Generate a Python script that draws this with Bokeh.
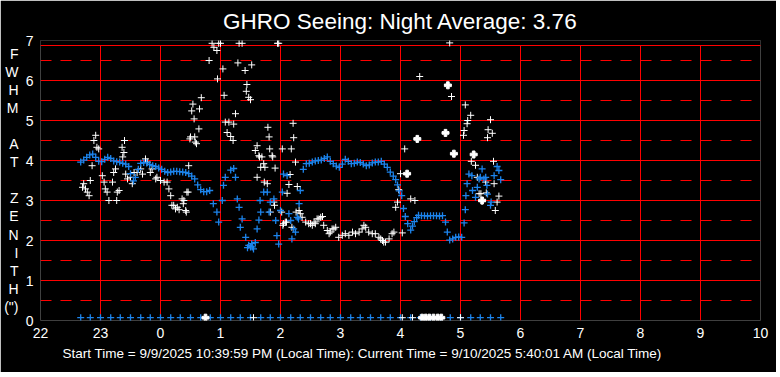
from bokeh.plotting import figure
from bokeh.models import FixedTicker, LinearAxis, Title, BoxAnnotation, Span
from bokeh.embed import file_html
from bokeh.resources import INLINE

# ---------------- data ----------------
title_text = "GHRO Seeing: Night Average: 3.76"
footer_text = "Start Time = 9/9/2025 10:39:59 PM (Local Time): Current Time = 9/10/2025 5:40:01 AM (Local Time)"
ylabel_letters = ["F", "W", "H", "M", "", "A", "T", "", "Z", "E", "N", "I", "T", "H", "(\")"]

hour_ticks = [22, 23, 24, 25, 26, 27, 28, 29, 30, 31, 32, 33, 34]
hour_labels = ["22", "23", "0", "1", "2", "3", "4", "5", "6", "7", "8", "9", "10"]
fwhm_ticks = [0, 1, 2, 3, 4, 5, 6, 7]
fwhm_grid = [0, 1, 2, 3, 4, 5, 6]
fwhm_half_ticks = [0.5, 1.5, 2.5, 3.5, 4.5, 5.5, 6.5]
frame_top = 6.875

# blue series (hours, arcsec)
blue_t = [22.67, 22.72, 22.77, 22.82, 22.87, 22.92, 22.97, 23.02, 23.07, 23.12, 23.17, 23.22, 23.27, 23.32,
          23.37, 23.42, 23.47, 23.50, 23.55, 23.58, 23.63, 23.67, 23.72, 23.77, 23.82, 23.87, 23.92, 23.97,
          24.02, 24.07, 24.12, 24.17, 24.22, 24.27, 24.32, 24.37, 24.42, 24.47, 24.52, 24.57, 24.62, 24.67,
          24.72, 24.77, 24.82,
          24.88, 24.94, 24.97, 25.03, 25.05, 25.08, 25.17, 25.22, 25.25, 25.28, 25.31, 25.33, 25.36, 25.42,
          25.47, 25.50, 25.53, 25.58, 25.61, 25.64, 25.67, 25.66, 25.72, 25.78, 25.81, 25.83, 25.89, 25.92,
          25.94, 25.97, 26.00, 26.03, 26.05, 26.11, 26.14, 26.17, 26.19, 26.22, 26.25, 26.28, 26.31, 26.30,
          26.33, 25.45, 25.52, 25.55,
          26.38, 26.43, 26.48, 26.53, 26.58, 26.63, 26.68, 26.73, 26.78, 26.83, 26.88, 26.93, 26.98, 27.03,
          27.08, 27.13, 27.18, 27.23, 27.28, 27.33, 27.38, 27.43, 27.48, 27.53, 27.58, 27.63, 27.68, 27.73,
          27.78, 27.83, 27.88, 27.92, 27.95, 27.98, 28.02, 28.05, 28.08, 28.12, 28.17, 28.20, 28.23, 28.27,
          28.30, 28.35, 28.40, 28.45, 28.50, 28.55, 28.60, 28.65, 28.70, 28.75, 28.78, 28.82, 28.87, 28.92,
          28.97, 29.02,
          29.06, 29.08, 29.09, 29.11, 29.14, 29.19, 29.20, 29.25, 29.28, 29.31, 29.33, 29.36, 29.39, 29.42,
          29.45, 29.44, 29.50, 29.51, 29.56, 29.61, 29.64, 29.67]
blue_v = [3.96, 4.01, 4.08, 4.14, 4.16, 4.08, 3.98, 3.97, 4.03, 4.08, 4.05, 3.99, 3.97, 3.96,
          3.93, 3.91, 3.85, 3.67, 3.49, 3.58, 3.78, 3.93, 3.95, 3.94, 3.90, 3.87, 3.85, 3.81,
          3.78, 3.73, 3.70, 3.71, 3.73, 3.73, 3.72, 3.71, 3.70, 3.67, 3.61, 3.54, 3.39, 3.27,
          3.22, 3.22, 3.25,
          2.92, 2.71, 2.46, 3.00, 3.38, 3.58, 3.76, 3.80, 3.58, 3.04, 2.83, 2.33, 2.54, 2.08,
          1.88, 1.84, 1.84, 1.95, 2.29, 2.51, 2.71, 3.00, 3.21, 3.21, 2.71, 2.96, 3.04, 2.50,
          2.12, 1.91, 2.75, 3.21, 3.66, 3.62, 2.67, 2.50, 2.04, 2.29, 2.21, 2.58, 2.92, 2.54,
          3.25, 1.82, 1.92, 1.79,
          3.78, 3.92, 3.93, 3.96, 3.99, 4.00, 4.01, 4.05, 4.09, 3.98, 3.92, 3.86, 3.83, 3.91,
          4.03, 3.98, 3.92, 3.93, 3.96, 3.95, 3.91, 3.87, 3.89, 3.94, 3.96, 3.96, 3.98, 3.91,
          3.83, 3.71, 3.61, 3.52, 3.39, 3.24, 3.12, 2.80, 2.60, 2.42, 2.26, 2.36, 2.47, 2.57,
          2.63, 2.62, 2.62, 2.61, 2.62, 2.62, 2.62, 2.61, 2.62, 2.46, 2.21, 2.01, 2.04, 2.08,
          2.09, 2.08,
          2.44, 2.77, 3.12, 3.42, 3.66, 3.62, 3.25, 3.08, 3.33, 3.54, 3.58, 3.79, 3.54, 3.58,
          3.16, 3.38, 2.88, 2.96, 3.62, 3.85, 3.75, 3.52]

# white series (hours, arcsec)
white_t = [22.70, 22.72, 22.75, 22.78, 22.81, 22.83, 22.86, 22.89, 22.92, 22.94, 22.97, 23.03, 23.06, 23.08,
           23.11, 23.14, 23.20, 23.22, 23.25, 23.28, 23.31, 23.27, 23.36, 23.39, 23.37, 23.40, 23.42, 23.45,
           23.50, 23.53, 23.56, 23.61, 23.67, 23.70, 23.75, 23.78, 23.83, 23.86, 23.92, 23.94, 24.00, 24.06,
           24.11, 24.14, 24.17, 24.19, 24.22, 24.25, 24.28, 24.31, 24.36, 24.39, 24.42, 24.44, 24.47, 24.38,
           24.43, 24.46, 24.49, 24.50, 24.52, 24.54, 24.56, 24.57, 24.58, 24.60, 24.64, 24.65, 24.68, 24.81,
           24.86, 24.89, 24.94, 24.97, 25.00, 25.04, 24.95, 25.06, 25.08, 25.11, 25.14, 25.17, 25.21, 25.22,
           25.25, 25.29, 25.31, 25.36, 25.41, 25.43, 25.44, 25.47, 25.50, 25.52, 25.58, 25.61, 25.64, 25.65,
           25.61, 25.67, 25.69, 25.72, 25.73, 25.74, 25.78, 25.79, 25.81, 25.82, 25.83, 25.86, 25.87, 25.89,
           25.90, 25.91, 25.95, 25.97, 26.03, 26.02, 26.04, 26.05, 26.08, 26.10, 26.11, 26.14, 26.16, 26.18,
           26.21, 26.22, 26.25, 26.26, 26.28, 26.31, 26.33, 26.36, 26.19,
           26.42, 26.47, 26.50, 26.53, 26.56, 26.58, 26.61, 26.64, 26.67, 26.70, 26.72, 26.78, 26.81, 26.83,
           26.86, 26.89, 26.92, 26.97, 27.03, 27.08, 27.14, 27.20, 27.25, 27.31, 27.36, 27.39, 27.42, 27.47,
           27.53, 27.58, 27.64, 27.67, 27.70, 27.72, 27.75, 27.81, 27.86, 27.89, 27.92, 27.95, 27.97, 28.00,
           28.03, 28.07, 28.17, 28.24, 28.32, 28.82, 28.85, 29.06, 29.05, 29.08, 29.11, 29.12, 29.17, 29.18,
           29.25, 29.28, 29.31, 29.34, 29.36, 29.42, 29.43, 29.45, 29.46, 29.50, 29.53, 29.55, 29.56, 29.58,
           29.61, 29.64]
white_v = [3.33, 3.42, 3.29, 3.21, 3.12, 3.50, 3.87, 4.50, 4.63, 4.33, 4.29, 3.62, 3.46, 3.29,
           3.21, 3.00, 3.46, 3.70, 3.79, 3.21, 3.25, 3.00, 4.33, 4.20, 4.09, 4.50, 3.66, 3.54,
           3.58, 3.42, 3.70, 3.70, 3.79, 3.66, 4.04, 3.96, 3.70, 3.79, 3.54, 3.58, 3.50, 3.46,
           3.46, 3.29, 3.12, 2.88, 2.88, 2.79, 2.83, 2.77, 3.04, 3.00, 2.75, 3.21, 3.87, 2.92,
           2.71, 3.21, 4.54, 4.59, 5.24, 5.41, 5.04, 4.59, 4.46, 4.42, 4.79, 5.29, 5.57, 6.50,
           6.93, 6.83, 6.75, 6.93, 6.93, 6.29, 6.04, 5.63, 4.96, 4.70, 4.96, 4.60, 4.50, 4.91,
           5.17, 6.44, 6.93, 6.93, 6.25, 5.73, 5.90, 5.58, 5.52, 6.39, 4.25, 4.37, 4.12, 4.09,
           3.58, 3.83, 4.09, 3.92, 3.46, 3.83, 3.42, 4.83, 4.59, 4.29, 2.71, 4.12, 4.09, 2.96,
           2.88, 3.81, 6.93, 6.93, 4.29, 2.71, 2.38, 2.42, 2.46, 2.46, 3.18, 3.40, 3.65, 4.29,
           4.93, 4.57, 3.96, 2.71, 3.35, 2.75, 2.67, 2.58, 2.33,
           2.46, 2.42, 2.42, 2.38, 2.46, 2.42, 2.54, 2.54, 2.58, 2.60, 2.38, 2.25, 2.17, 2.21,
           2.29, 2.29, 2.33, 2.08, 2.13, 2.17, 2.13, 2.21, 2.17, 2.21, 2.29, 2.38, 2.33, 2.21,
           2.17, 2.17, 2.08, 2.04, 2.00, 1.96, 1.96, 2.04, 2.17, 2.21, 2.83, 2.96, 3.27, 3.67,
           2.19, 4.29, 3.04, 3.00, 6.10, 6.94, 5.60, 4.75, 4.63, 5.39, 4.92, 5.00, 5.13, 3.98,
           3.88, 3.58, 3.17, 3.17, 2.98, 3.46, 3.19, 4.57, 4.77, 5.02, 4.68, 3.98, 3.42, 2.75,
           2.96, 3.11]

# heavy white marks
white_bold_t = [28.11, 28.28, 28.75, 28.79, 28.89, 29.22, 29.36]
white_bold_v = [3.67, 4.54, 4.69, 5.88, 4.17, 4.15, 3.00]

# readings drawn on the zero line
blue_zero_t = [22.67, 22.83, 23.00, 23.17, 23.33, 23.50, 23.67, 23.83, 24.00, 24.17, 24.33, 24.50, 24.67,
               24.83, 25.00, 25.17, 25.33, 25.50, 25.67, 25.83, 26.00, 26.17, 26.33, 26.50, 26.67, 26.83,
               27.00, 27.17, 27.33, 27.50, 27.67, 27.83, 28.00, 28.17, 28.33, 28.50, 28.67, 28.83, 29.00,
               29.17, 29.33, 29.50, 29.67]
blue_zero_v = [0.07] * len(blue_zero_t)
white_zero_t = [25.55, 28.03, 28.20, 29.00]
white_zero_v = [0.07, 0.07, 0.07, 0.07]
white_bold_zero_t = [24.75, 28.36, 28.42, 28.48, 28.55, 28.62, 28.68]
white_bold_zero_v = [0.07, 0.07, 0.07, 0.07, 0.07, 0.07, 0.07]

# ---------------- figure ----------------
RED = "#ff0000"
BLUE = "#1c84ec"
FONT = "Liberation Sans"
GRID_W = 1

p = figure(frame_width=720, frame_height=280,
           x_range=(22, 34), y_range=(0, 7),
           min_border_left=40, min_border_right=16, min_border_top=40, min_border_bottom=52,
           output_backend="svg", toolbar_location=None,
           background_fill_color="black", border_fill_color="black")
p.outline_line_color = None

p.title.text = title_text
p.title.align = "center"
p.title.text_color = "white"
p.title.text_font = FONT
p.title.text_font_size = "22.5px"
p.title.text_font_style = "normal"
p.title.standoff = 13

p.xaxis.ticker = FixedTicker(ticks=hour_ticks)
p.xaxis.major_label_overrides = {t: l for t, l in zip(hour_ticks, hour_labels)}
p.yaxis.ticker = FixedTicker(ticks=fwhm_ticks)

# stacked letters of the vertical axis title, as an extra left axis
letter_pos = [round(6.675 - i * 0.4525, 4) for i in range(len(ylabel_letters))]
letter_axis = LinearAxis(ticker=FixedTicker(ticks=[v for v, l in zip(letter_pos, ylabel_letters) if l]),
                         major_label_overrides={v: l for v, l in zip(letter_pos, ylabel_letters) if l})
p.add_layout(letter_axis, "left")

for ax in (p.xaxis[0], p.yaxis[0], letter_axis):
    ax.axis_line_color = None
    ax.major_tick_line_color = None
    ax.minor_tick_line_color = None
    ax.major_tick_out = 0
    ax.minor_tick_out = 0
    ax.major_label_text_color = "white"
    ax.major_label_text_font = FONT
    ax.major_label_text_font_size = "14px"
p.xaxis.major_label_standoff = 7
p.yaxis[0].major_label_standoff = 7
letter_axis.major_label_standoff = 4

p.xgrid.ticker = FixedTicker(ticks=hour_ticks)
p.xgrid.grid_line_color = RED
p.xgrid.grid_line_width = GRID_W
p.ygrid.ticker = FixedTicker(ticks=fwhm_grid + [frame_top], minor_ticks=fwhm_half_ticks)
p.ygrid.grid_line_color = RED
p.ygrid.grid_line_width = GRID_W
p.ygrid.minor_grid_line_color = RED
p.ygrid.minor_grid_line_width = GRID_W
p.ygrid.minor_grid_line_dash = "11 9"

# mask grid above the plotting frame, then redraw the top border
p.add_layout(BoxAnnotation(bottom=frame_top, fill_color="black", fill_alpha=1.0,
                           line_color=None, level="underlay"))
p.add_layout(Span(location=frame_top, dimension="width", line_color=RED, line_width=GRID_W,
                  level="underlay"))

# footer
p.add_layout(Title(text=footer_text, align="left", offset=22, text_color="white", text_font=FONT,
                   text_font_size="13.5px", text_font_style="normal", standoff=6), "below")

# markers
p.scatter(white_t, white_v, marker="cross", size=7, line_color="white", line_width=1)
p.scatter(blue_t, blue_v, marker="cross", size=7, line_color=BLUE, line_width=1.3)
p.scatter(blue_zero_t, blue_zero_v, marker="cross", size=7, line_color=BLUE, line_width=1.3)
p.scatter(white_zero_t, white_zero_v, marker="cross", size=7, line_color="white", line_width=1)
p.scatter(white_bold_t, white_bold_v, marker="plus", size=7, fill_color="white", line_color="white")
p.scatter(white_bold_zero_t, white_bold_zero_v, marker="plus", size=7, fill_color="white", line_color="white")

open("out.html", "w").write(file_html(p, INLINE))
